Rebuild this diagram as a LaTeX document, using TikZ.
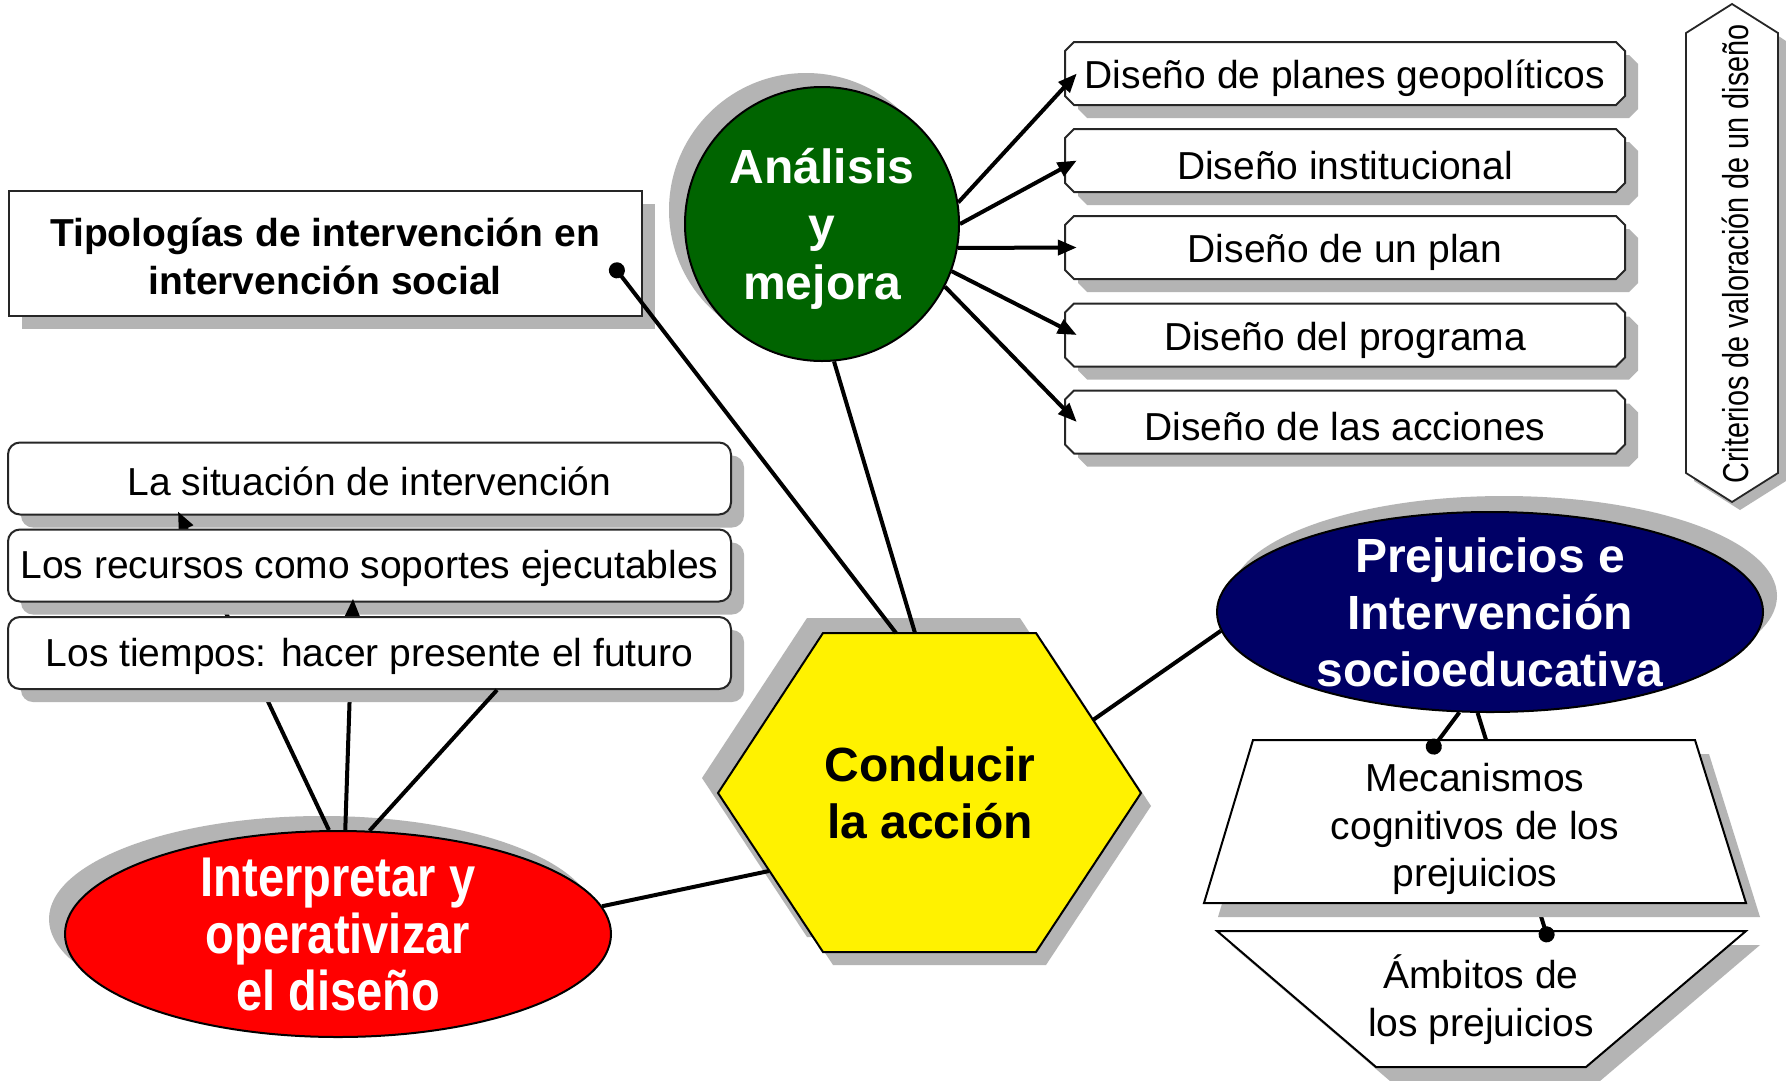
\documentclass[tikz,border=0pt]{standalone}
\usepackage{fontspec}
\setmainfont{Liberation Sans}
\usetikzlibrary{shapes.geometric,shapes.misc,arrows.meta,calc,shadows}
\definecolor{shgray}{RGB}{180,180,180}
\definecolor{dgreen}{RGB}{0,100,0}
\definecolor{navyb}{RGB}{0,0,102}
\newcommand{\nrw}[1]{\scalebox{0.84}[1]{#1}}
\tikzset{
  conn/.style={line width=4pt},
  arr/.style={conn,-{Triangle[length=19pt,width=15pt]}},
  dotarr/.style={conn,-{Circle[length=16pt]}},
  shR/.style={drop shadow={shadow xshift=13pt,shadow yshift=-13pt,fill=shgray,opacity=1}},
  dframe/.style={draw=black!85, line width=2pt, fill=white},
  dbox/.style={rectangle, minimum width=560pt, minimum height=63pt, inner sep=0pt},
  dtext/.style={inner sep=0pt, font=\fontsize{39}{44}\selectfont},
  lbox/.style={rectangle, rounded corners=12pt, draw=black!85, line width=2pt, fill=white,
    minimum width=723pt, minimum height=72pt, inner sep=0pt, shR},
  tbox/.style={rectangle, draw=black!85, line width=2pt, fill=white, minimum width=633pt,
    minimum height=125pt, inner sep=0pt, shR},
  bigtxt/.style={font=\fontsize{48}{58}\selectfont\bfseries, align=center, inner sep=0pt},
  midtxt/.style={font=\fontsize{39}{48}\selectfont, align=center, inner sep=0pt},
  shapeline/.style={draw=black, line width=2pt},
}
% chamfered box: name, cx, cy, text
\newcommand{\dsbox}[4]{%
  \fill[shgray, shift={(#2+13,#3+13)}] (-271,-31.5) -- (271,-31.5) -- (280,-22.5) -- (280,22.5) -- (271,31.5) -- (-271,31.5) -- (-280,22.5) -- (-280,-22.5) -- cycle;
  \draw[dframe, shift={(#2,#3)}] (-271,-31.5) -- (271,-31.5) -- (280,-22.5) -- (280,22.5) -- (271,31.5) -- (-271,31.5) -- (-280,22.5) -- (-280,-22.5) -- cycle;
  \node[dbox] (#1) at (#2,#3) {};
  \node[dtext] (#1t) at (#2,#3+5) {#4};
}
\begin{document}
\begin{tikzpicture}[x=1pt,y=-1pt]
\fill[white] (0,0) rectangle (1786,1080);
\useasboundingbox (0,0) rectangle (1786,1080);

% ---------- Tipologias
\node[tbox] (tip) at (325,253) {};
\node[midtxt, font=\fontsize{39}{48}\selectfont\bfseries] (tiptxt) at (325,256) {Tipologías de intervención en\\intervención social};

% ---------- Analisis y mejora
\node[circle, shapeline, fill=dgreen, minimum size=274pt, inner sep=0pt,
  drop shadow={shadow xshift=-16pt,shadow yshift=14pt,fill=shgray,opacity=1}] (an) at (822,224) {};
\node[bigtxt, text=white] (antxt) at (822,229) {Análisis\\y\\mejora};

% ---------- Diseño boxes
\dsbox{d1}{1345}{73.5}{Diseño de planes geopolíticos}
\dsbox{d2}{1345}{160.5}{Diseño institucional}
\dsbox{d3}{1345}{247.5}{Diseño de un plan}
\dsbox{d4}{1345}{335}{Diseño del programa}
\dsbox{d5}{1345}{422}{Diseño de las acciones}
\draw[arr] (an.9) -- ([xshift=12pt]d1.west);
\draw[arr] (an.0) -- ([xshift=12pt]d2.west);
\draw[arr] (an.-10) -- ([xshift=12pt]d3.west);
\draw[arr] (an.-20) -- ([xshift=12pt]d4.west);
\draw[arr] (an.-27) -- ([xshift=12pt]d5.west);

% ---------- Criterios
\fill[shgray] (1694,41) -- (1740,11) -- (1786,41) -- (1786,481) -- (1740,510) -- (1694,481) -- cycle;
\draw[fill=white, line width=1.8pt, draw=black!85] (1686,33) -- (1732,4) -- (1778,33) -- (1778,473) -- (1732,502) -- (1686,473) -- cycle;
\node[rotate=90, inner sep=0pt, font=\fontsize{36}{40}\selectfont] (crit) at (1735,254) {\scalebox{0.8}[1]{Criterios de valoración de un diseño}};

% ---------- Interpretar y operativizar
\node[ellipse, shapeline, fill=red, minimum width=546pt, minimum height=206pt, inner sep=0pt,
  drop shadow={shadow xshift=-16pt,shadow yshift=15pt,fill=shgray,opacity=1}] (ip) at (338,934) {};
\node[bigtxt, text=white, font=\fontsize{56}{57}\selectfont\bfseries] (iptxt) at (338,934) {\nrw{Interpretar y}\\\nrw{operativizar}\\\nrw{el diseño}};

% ---------- left stack
\node[lbox] (sit) at (369.5,478.5) {};
\node[dtext] (sitt) at (369.5,481.5) {La situación de intervención};
\draw[arr] (ip.95) -- ([xshift=171pt,yshift=4pt]sit.south west);
\node[lbox] (rec) at (369.5,565.5) {};
\node[dtext] (rect) at (369.5,568.5) {Los recursos como soportes ejecutables};
\draw[arr] (ip.86) -- ([xshift=346pt,yshift=4pt]rec.south west);
\node[lbox] (tie) at (369.5,653) {};
\node[dtext] (tiet) at (369.5,656) {Los tiempos: hacer presente el futuro};
\draw[conn] (ip.73) -- ([xshift=490pt]tie.south west);

% ---------- Conducir la accion (hexagon)
\fill[shgray] (807,618) -- (1020,618) -- (1125,778) -- (1020,937) -- (807,937) -- (702,778) -- cycle;
\fill[shgray] (833,646) -- (1046,646) -- (1151,806) -- (1046,965) -- (833,965) -- (728,806) -- cycle;
\coordinate (hv1) at (823,633);
\coordinate (hv2) at (1036,633);
\coordinate (hv3) at (1141,793);
\coordinate (hv4) at (1036,952);
\coordinate (hv5) at (823,952);
\coordinate (hv6) at (718,793);
\draw[shapeline, fill=yellow] (hv1) -- (hv2) -- (hv3) -- (hv4) -- (hv5) -- (hv6) -- cycle;
\node[bigtxt, font=\fontsize{48}{57}\selectfont\bfseries] (hx) at (930,793) {Conducir\\la acción};
\coordinate (ht1) at (896,633);
\coordinate (ht2) at (915,633);
\coordinate (hR) at (1093,720);
\coordinate (hL) at (769,871);

% connectors to hexagon
\coordinate (tipdot) at (612,264);
\draw[dotarr] (ht1) -- (tipdot);
\draw[conn] (an.-85) -- (ht2);
\draw[conn] (ip.6) -- (hL);

% ---------- Prejuicios
\node[ellipse, shapeline, fill=navyb, minimum width=546pt, minimum height=200pt, inner sep=0pt,
  drop shadow={shadow xshift=14pt,shadow yshift=16pt,fill=shgray,opacity=1}] (pj) at (1490,612) {};
\node[bigtxt, text=white, font=\fontsize{48}{57}\selectfont\bfseries] (pjtxt) at (1490,612) {Prejuicios e\\Intervención\\socioeducativa};
\draw[conn] (hR) -- (pj.184);

% ---------- Ambitos
\fill[shgray] (1231,945) -- (1760,945) -- (1600,1081) -- (1390,1081) -- cycle;
\draw[shapeline, fill=white] (1217,931) -- (1746,931) -- (1586,1067) -- (1376,1067) -- cycle;
\node[midtxt] (amb) at (1481,1000) {Ámbitos de\\los prejuicios};
\coordinate (ambdot) at (1549,942);
\draw[dotarr] (pj.263) -- (ambdot);

% ---------- Mecanismos
\fill[shgray] (1267,754) -- (1709,754) -- (1760,917) -- (1218,917) -- cycle;
\draw[shapeline, fill=white] (1253,740) -- (1695,740) -- (1746,903) -- (1204,903) -- cycle;
\node[midtxt, font=\fontsize{39}{47.5}\selectfont] (mec) at (1475,829) {Mecanismos\\cognitivos de los\\prejuicios};
\coordinate (mecdot) at (1429,753);
\draw[dotarr] (pj.253) -- (mecdot);
\end{tikzpicture}
\end{document}
